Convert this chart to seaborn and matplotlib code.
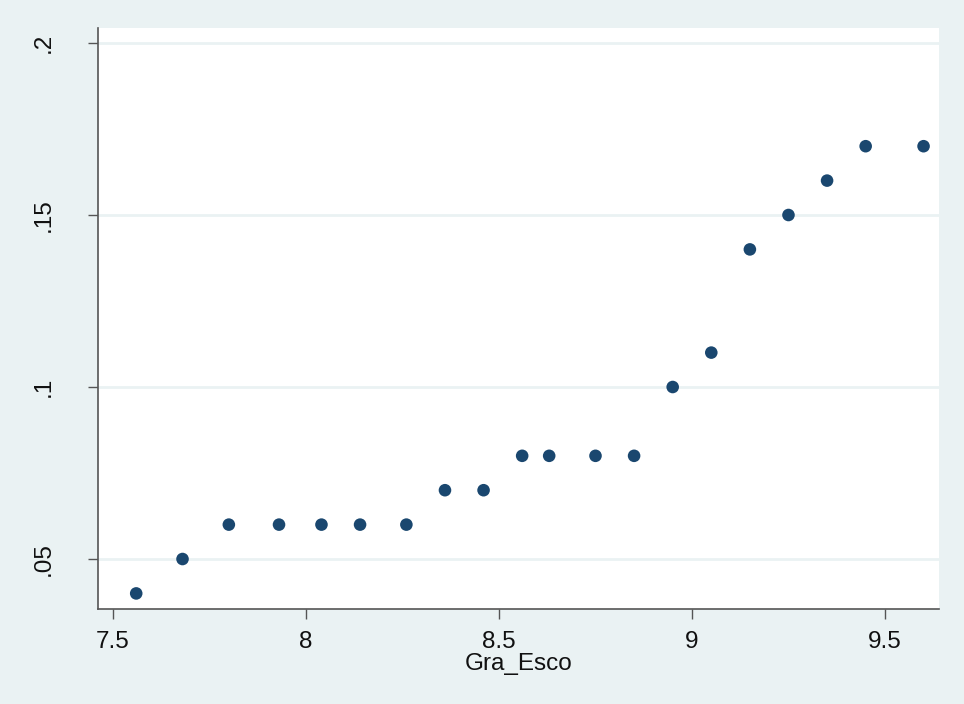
import matplotlib
matplotlib.use("Agg")
import matplotlib.pyplot as plt
import seaborn as sns
import pandas as pd

# Years of schooling (Gra_Esco) vs. rate
gra_esco = [7.56, 7.68, 7.80, 7.93, 8.04, 8.14, 8.26, 8.36, 8.46, 8.56,
            8.63, 8.75, 8.85, 8.95, 9.05, 9.15, 9.25, 9.35, 9.45, 9.60]
rate = [0.04, 0.05, 0.06, 0.06, 0.06, 0.06, 0.06, 0.07, 0.07, 0.08,
        0.08, 0.08, 0.08, 0.10, 0.11, 0.14, 0.15, 0.16, 0.17, 0.17]

x_ticks = [7.5, 8, 8.5, 9, 9.5]
x_tick_labels = ["7.5", "8", "8.5", "9", "9.5"]
y_ticks = [0.05, 0.10, 0.15, 0.20]
y_tick_labels = [".05", ".1", ".15", ".2"]

df = pd.DataFrame({"Gra_Esco": gra_esco, "rate": rate})

sns.set_theme(style="white")
plt.rcParams["font.family"] = ["Liberation Sans", "DejaVu Sans"]

bg = "#eaf2f3"
navy = "#1a476f"
fs = 17.5

fig = plt.figure(figsize=(9.64, 7.04), dpi=100)
fig.patch.set_facecolor(bg)
ax = fig.add_axes([98 / 964, 1 - 609 / 704, (939 - 98) / 964, (609 - 28) / 704])
ax.set_facecolor("white")

sns.scatterplot(data=df, x="Gra_Esco", y="rate", ax=ax, color=navy,
                s=82, edgecolor="none", linewidth=0, zorder=3)

ax.set_xlim(7.461, 9.640)
ax.set_ylim(0.03547, 0.20436)

ax.set_xticks(x_ticks)
ax.set_xticklabels(x_tick_labels)
ax.set_yticks(y_ticks)
ax.set_yticklabels(y_tick_labels, rotation=90, va="center")

for y in y_ticks:
    ax.axhline(y, color=bg, linewidth=2, zorder=1)

for side in ["top", "right"]:
    ax.spines[side].set_visible(False)
for side in ["left", "bottom"]:
    ax.spines[side].set_color("#555555")
    ax.spines[side].set_linewidth(1.2)

ax.tick_params(axis="x", which="major", direction="out", length=7, width=1,
               color="#555555", pad=9, labelsize=fs, labelcolor="#111111",
               bottom=True)
ax.tick_params(axis="y", which="major", direction="out", length=7, width=1,
               color="#555555", pad=24, labelsize=fs, labelcolor="#111111",
               left=True)

ax.set_xlabel("Gra_Esco", fontsize=fs, color="#111111", labelpad=0)
ax.set_ylabel("")

fig.savefig("out.png", dpi=100, facecolor=bg)
